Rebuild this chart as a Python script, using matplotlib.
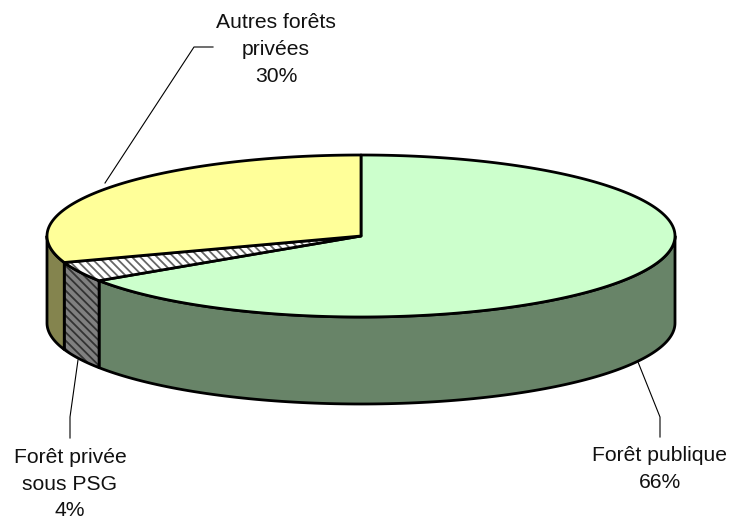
import numpy as np
import matplotlib
matplotlib.use('Agg')
import matplotlib.pyplot as plt

plt.rcParams['font.family'] = ['Liberation Sans', 'DejaVu Sans']
plt.rcParams['hatch.linewidth'] = 1.3

# parts of the pie, clockwise from 12 o'clock
labels = ['Forêt publique\n66%', 'Forêt privée\nsous PSG\n4%', 'Autres forêts\nprivées\n30%']
values = [65.7, 4.0, 30.3]
top_colors = ['#CCFFCC', '#FFFFFF', '#FFFF99']
side_colors = ['#688468', '#808080', '#84844E']
hatches = [None, '\\\\\\\\', None]
hatch_top = '#666666'
hatch_side = '#333333'

# ellipse in pixels
cx, cy = 361, 236
rx, ry = 314, 81
depth = 87


def rim(a, dy=0):
    # a in degrees clockwise from the top
    a = np.radians(a)
    return cx + rx * np.sin(a), cy - ry * np.cos(a) + dy


def face(x, y, color, hatch, hatch_color, z):
    # hatch takes the edge colour, so the outline goes on as a second layer
    ax.fill(x, y, facecolor=color, edgecolor=hatch_color if hatch else color,
            linewidth=0, hatch=hatch, zorder=z)
    ax.fill(x, y, facecolor='none', edgecolor='black', linewidth=lw,
            joinstyle='round', zorder=z)


fig = plt.figure(figsize=(7.44, 5.19), dpi=100)
ax = fig.add_axes([0, 0, 1, 1])
ax.set_xlim(0, 744)
ax.set_ylim(519, 0)
ax.axis('off')

edges = np.concatenate([[0], np.cumsum(values)]) * 3.6
lw = 2.0

# sides first, only the front half shows (90 to 270 degrees)
for i in range(len(values)):
    a0, a1 = max(edges[i], 90), min(edges[i + 1], 270)
    if a0 >= a1:
        continue
    t = np.linspace(a0, a1, 120)
    x, y = rim(t)
    x2, y2 = rim(t[::-1], depth)
    face(np.r_[x, x2], np.r_[y, y2], side_colors[i], hatches[i], hatch_side, 2)

# top faces
for i in range(len(values)):
    t = np.linspace(edges[i], edges[i + 1], 240)
    x, y = rim(t)
    face(np.r_[cx, x], np.r_[cy, y], top_colors[i], hatches[i], hatch_top, 3)

# leader lines
ax.plot([638, 660, 660], [362, 417, 437], color='black', lw=0.8, zorder=1)
ax.plot([78, 70, 70], [360, 417, 438], color='black', lw=0.8, zorder=1)
ax.plot([105, 194, 213], [183, 47, 47], color='black', lw=0.8, zorder=1)

# labels
fs = 15.2
ax.text(660, 469, labels[0], ha='center', va='center', fontsize=fs, color='#111111', linespacing=1.5)
ax.text(70, 484, labels[1], ha='center', va='center', fontsize=fs, color='#111111', linespacing=1.5)
ax.text(276, 49.5, labels[2], ha='center', va='center', fontsize=fs, color='#111111', linespacing=1.5)

fig.savefig('out.png', dpi=100)
